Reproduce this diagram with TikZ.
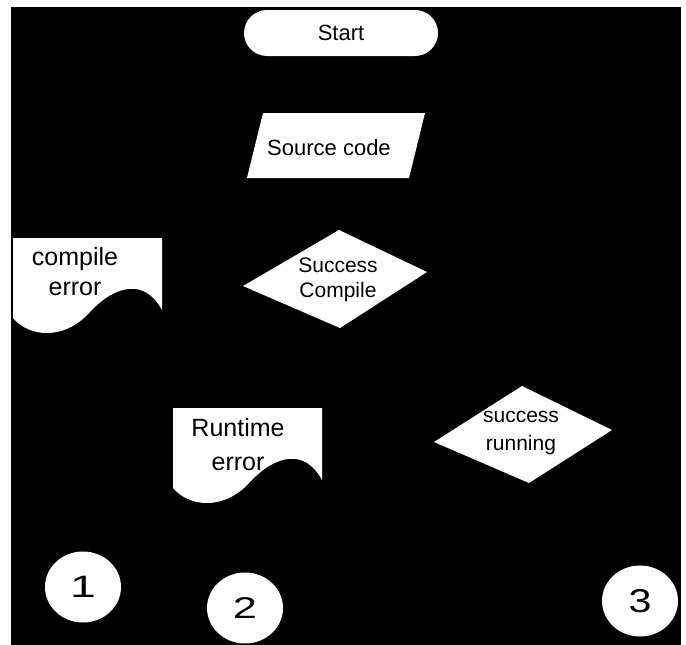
\documentclass[tikz,border=0pt]{standalone}
\usepackage{fontspec}
\setmainfont{Liberation Sans}
\usetikzlibrary{shapes.misc,shapes.geometric}

\begin{document}
\begin{tikzpicture}[
        x=1pt, y=-1pt,
        every node/.style={inner sep=0pt, align=center, text=black},
        label21/.style={font=\fontsize{22}{25}\selectfont},
        label25/.style={font=\fontsize{25}{30}\selectfont},
        terminal/.style={rounded rectangle, fill=white, minimum width=194pt, minimum height=46pt, label21},
        numcircle/.style={ellipse, fill=white, minimum width=76pt, minimum height=71pt},
        docpage/.pic={
            \fill[white] (0,0) -- (149,0) -- (149,72)
                .. controls (132,40) and (102,47) .. (77,74)
                .. controls (52,102) and (17,100) .. (0,80) -- cycle;
        }
    ]
 % frame
 \fill[white] (0,0) rectangle (686,645);
 \fill[black] (11,7) rectangle (681,645);
 \useasboundingbox (0,0) rectangle (686,645);

 \node[terminal] (start) at (341,33) {Start};

 \fill[white] (263,113) -- (425,113) -- (409,178) -- (247,178) -- cycle;
 \node[label21] (source) at (329,148) {Source code};

 \fill[white] (339,230) -- (427,272) -- (340,328) -- (243,286) -- cycle;
 \node[label21, font=\fontsize{21}{25}\selectfont] (compile) at (338,280) {Success\\Compile};

 \pic at (13,238) {docpage};
 \node[label25] (cerror) at (75,272) {compile\\error};

 \pic at (173,408) {docpage};
 \node[label25, font=\fontsize{25}{34}\selectfont] (rerror) at (238,445) {Runtime\\error};

 \fill[white] (522,386) -- (612,430) -- (529,483) -- (434,442) -- cycle;
 \node[label21, font=\fontsize{21}{28}\selectfont] (running) at (521,433) {success\\running};

 \node[numcircle, font=\fontsize{31}{30}\selectfont] (one) at (83,587) {\scalebox{1.5}[1]{1}};
 \node[numcircle, font=\fontsize{30}{30}\selectfont] (two) at (245,608) {\scalebox{1.45}[1]{2}};
 \node[numcircle, font=\fontsize{33}{30}\selectfont] (three) at (640,601) {\scalebox{1.25}[1]{3}};
\end{tikzpicture}
\end{document}
